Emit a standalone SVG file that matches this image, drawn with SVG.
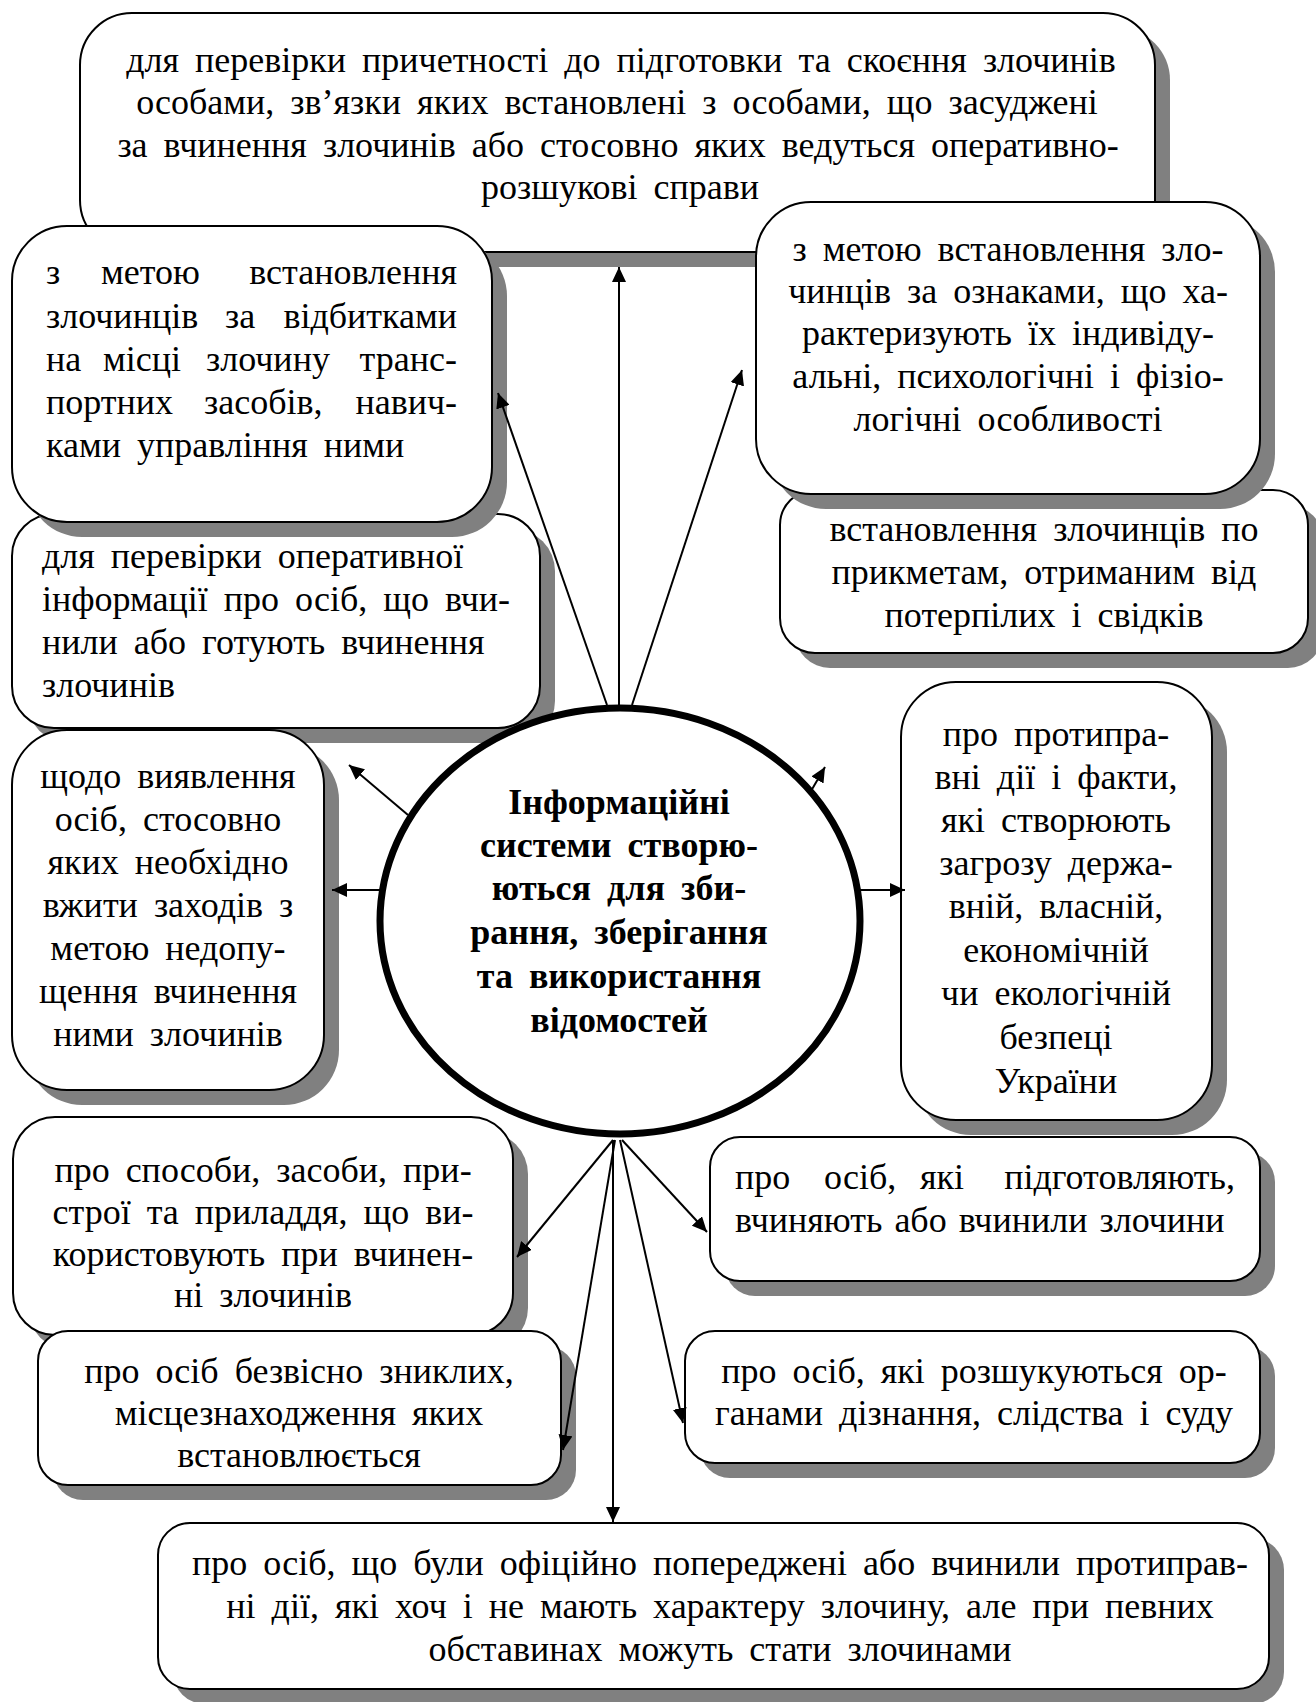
<svg xmlns="http://www.w3.org/2000/svg" width="1316" height="1702" viewBox="0 0 1316 1702">
<defs>
<style>
.sh{fill:#808080}
.box{fill:#fff;stroke:#000;stroke-width:2}
.t{font-family:"Liberation Serif","Times New Roman",serif;font-size:36px;fill:#000;word-spacing:7px}
.c{text-anchor:middle}
.e{text-anchor:end}
.b{font-weight:bold}
.conn line{stroke:#000;stroke-width:2;marker-end:url(#ah)}
</style>
<marker id="ah" markerUnits="userSpaceOnUse" markerWidth="16" markerHeight="14" refX="15" refY="7" orient="auto">
<path d="M0,0 L15,7 L0,14 z" fill="#000"/>
</marker>
</defs>
<rect width="1316" height="1702" fill="#fff"/>

<g id="n1">
<rect class="sh" x="95" y="28" width="1075" height="239" rx="52"/>
<rect class="box" x="80" y="13" width="1075" height="239" rx="52"/>
<text class="t c" x="621" y="72">для перевірки причетності до підготовки та скоєння злочинів</text>
<text class="t c" x="617" y="114">особами, зв’язки яких встановлені з особами, що засуджені</text>
<text class="t c" x="618" y="157">за вчинення злочинів або стосовно яких ведуться оперативно-</text>
<text class="t c" x="620" y="199">розшукові справи</text>
</g>

<g id="n3">
<rect class="sh" x="27" y="529" width="528" height="214" rx="42"/>
<rect class="box" x="12" y="514" width="528" height="214" rx="42"/>
<text class="t" x="42" y="568">для перевірки оперативної</text>
<text class="t" x="42" y="611">інформації про осіб, що вчи-</text>
<text class="t" x="42" y="654">нили або готують вчинення</text>
<text class="t" x="42" y="697">злочинів</text>
</g>

<g id="n2">
<rect class="sh" x="27" y="241" width="480" height="296" rx="55"/>
<rect class="box" x="12" y="226" width="480" height="296" rx="55"/>
<text class="t" x="46" y="284">з</text>
<text class="t" x="101" y="284">метою</text>
<text class="t e" x="457" y="284">встановлення</text>
<text class="t" x="46" y="328">злочинців</text>
<text class="t" x="225" y="328">за</text>
<text class="t e" x="457" y="328">відбитками</text>
<text class="t" x="46" y="371">на</text>
<text class="t" x="103" y="371">місці</text>
<text class="t" x="206" y="371">злочину</text>
<text class="t e" x="457" y="371">транс-</text>
<text class="t" x="46" y="414">портних</text>
<text class="t" x="204" y="414">засобів,</text>
<text class="t e" x="457" y="414">навич-</text>
<text class="t" x="46" y="457">ками управління ними</text>
</g>

<g id="n11">
<rect class="sh" x="795" y="505" width="528" height="163" rx="35"/>
<rect class="box" x="780" y="490" width="528" height="163" rx="35"/>
<text class="t c" x="1044" y="541">встановлення злочинців по</text>
<text class="t c" x="1044" y="584">прикметам, отриманим від</text>
<text class="t c" x="1044" y="627">потерпілих і свідків</text>
</g>

<g id="n12">
<rect class="sh" x="771" y="217" width="504" height="292" rx="55"/>
<rect class="box" x="756" y="202" width="504" height="292" rx="55"/>
<text class="t c" x="1008" y="261">з метою встановлення зло-</text>
<text class="t c" x="1008" y="303">чинців за ознаками, що ха-</text>
<text class="t c" x="1008" y="345">рактеризують їх індивіду-</text>
<text class="t c" x="1008" y="388">альні, психологічні і фізіо-</text>
<text class="t c" x="1008" y="431">логічні особливості</text>
</g>

<g id="n4">
<rect class="sh" x="27" y="745" width="312" height="360" rx="55"/>
<rect class="box" x="12" y="730" width="312" height="360" rx="55"/>
<text class="t c" x="168" y="788">щодо виявлення</text>
<text class="t c" x="168" y="831">осіб, стосовно</text>
<text class="t c" x="168" y="874">яких необхідно</text>
<text class="t c" x="168" y="917">вжити заходів з</text>
<text class="t c" x="168" y="960">метою недопу-</text>
<text class="t c" x="168" y="1003">щення вчинення</text>
<text class="t c" x="168" y="1046">ними злочинів</text>
</g>

<g id="n10">
<rect class="sh" x="916" y="697" width="311" height="438" rx="55"/>
<rect class="box" x="901" y="682" width="311" height="438" rx="55"/>
<text class="t c" x="1056" y="746">про протипра-</text>
<text class="t c" x="1056" y="789">вні дії і факти,</text>
<text class="t c" x="1056" y="832">які створюють</text>
<text class="t c" x="1056" y="875">загрозу держа-</text>
<text class="t c" x="1056" y="918">вній, власній,</text>
<text class="t c" x="1056" y="962">економічній</text>
<text class="t c" x="1056" y="1005">чи екологічній</text>
<text class="t c" x="1056" y="1049">безпеці</text>
<text class="t c" x="1056" y="1093">України</text>
</g>

<g id="n5">
<rect class="sh" x="28" y="1132" width="500" height="218" rx="42"/>
<rect class="box" x="13" y="1117" width="500" height="218" rx="42"/>
<text class="t c" x="263" y="1182">про способи, засоби, при-</text>
<text class="t c" x="263" y="1224">строї та приладдя, що ви-</text>
<text class="t c" x="263" y="1266">користовують при вчинен-</text>
<text class="t c" x="263" y="1307">ні злочинів</text>
</g>

<g id="n6">
<rect class="sh" x="53" y="1346" width="523" height="154" rx="30"/>
<rect class="box" x="38" y="1331" width="523" height="154" rx="30"/>
<text class="t c" x="299" y="1383">про осіб безвісно зниклих,</text>
<text class="t c" x="299" y="1425">місцезнаходження яких</text>
<text class="t c" x="299" y="1467">встановлюється</text>
</g>

<g id="n9">
<rect class="sh" x="725" y="1152" width="550" height="144" rx="30"/>
<rect class="box" x="710" y="1137" width="550" height="144" rx="30"/>
<text class="t" x="735" y="1189">про</text>
<text class="t" x="824" y="1189">осіб,</text>
<text class="t" x="920" y="1189">які</text>
<text class="t e" x="1235" y="1189">підготовляють,</text>
<text class="t" x="735" y="1232" style="word-spacing:3px">вчиняють або вчинили злочини</text>
</g>

<g id="n8">
<rect class="sh" x="700" y="1346" width="575" height="132" rx="30"/>
<rect class="box" x="685" y="1331" width="575" height="132" rx="30"/>
<text class="t c" x="974" y="1383">про осіб, які розшукуються ор-</text>
<text class="t c" x="974" y="1425">ганами дізнання, слідства і суду</text>
</g>

<g id="n7">
<rect class="sh" x="173" y="1538" width="1111" height="166" rx="32"/>
<rect class="box" x="158" y="1523" width="1111" height="166" rx="32"/>
<text class="t c" x="720" y="1575">про осіб, що були офіційно попереджені або вчинили протиправ-</text>
<text class="t c" x="720" y="1618">ні дії, які хоч і не мають характеру злочину, але при певних</text>
<text class="t c" x="720" y="1661">обставинах можуть стати злочинами</text>
</g>

<g id="center">
<ellipse cx="620" cy="921" rx="240" ry="213" fill="#fff" stroke="#000" stroke-width="7"/>
<text class="t c b" x="619" y="814">Інформаційні</text>
<text class="t c b" x="619" y="857">системи створю-</text>
<text class="t c b" x="619" y="900">ються для зби-</text>
<text class="t c b" x="619" y="944">рання, зберігання</text>
<text class="t c b" x="619" y="988">та використання</text>
<text class="t c b" x="619" y="1032">відомостей</text>
</g>

<g id="connectors" class="conn">
<line x1="619" y1="705" x2="619" y2="267"/>
<line x1="607" y1="705" x2="498" y2="393"/>
<line x1="632" y1="705" x2="742" y2="370"/>
<line x1="408" y1="815" x2="349" y2="765"/>
<line x1="380" y1="890" x2="332" y2="890"/>
<line x1="811" y1="791" x2="825" y2="767"/>
<line x1="860" y1="890" x2="905" y2="890"/>
<line x1="613" y1="1140" x2="517" y2="1257"/>
<line x1="615" y1="1140" x2="563" y2="1450"/>
<line x1="613" y1="1140" x2="613" y2="1522"/>
<line x1="620" y1="1140" x2="683" y2="1423"/>
<line x1="622" y1="1140" x2="707" y2="1232"/>
</g>
</svg>
